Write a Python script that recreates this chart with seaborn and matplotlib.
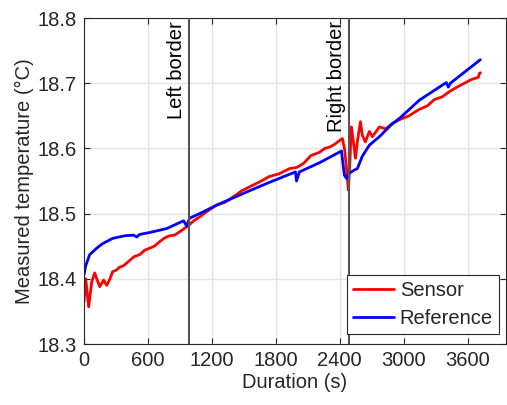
import numpy as np
import pandas as pd
import matplotlib
matplotlib.use("Agg")
import matplotlib.pyplot as plt
import seaborn as sns

# Sensor curve (time in s, temperature in °C)
sensor_t = [0, 16, 44, 72, 100, 147, 185, 213, 241, 269, 300, 335, 370, 428, 470, 522, 570,
            616, 660, 710, 760, 803, 850, 897, 940, 982, 1030, 1085, 1150, 1244, 1320, 1413,
            1480, 1553, 1640, 1741, 1830, 1929, 2000, 2060, 2130, 2210, 2260, 2303, 2350, 2397,
            2425, 2444, 2463, 2481, 2495, 2509, 2528, 2547, 2565, 2594, 2612, 2640, 2678, 2706,
            2772, 2830, 2894, 2960, 3050, 3147, 3220, 3288, 3360, 3428, 3500, 3569, 3640, 3700,
            3710, 3720]
sensor_v = [18.365, 18.400, 18.357, 18.395, 18.409, 18.388, 18.398, 18.390, 18.399, 18.411,
            18.413, 18.418, 18.420, 18.428, 18.434, 18.437, 18.444, 18.447, 18.450, 18.457,
            18.463, 18.466, 18.467, 18.472, 18.477, 18.482, 18.489, 18.495, 18.503, 18.513,
            18.517, 18.527, 18.535, 18.541, 18.548, 18.557, 18.561, 18.569, 18.571, 18.577,
            18.589, 18.594, 18.600, 18.602, 18.606, 18.612, 18.615, 18.600, 18.570, 18.536,
            18.580, 18.633, 18.610, 18.585, 18.610, 18.641, 18.620, 18.610, 18.626, 18.618,
            18.633, 18.630, 18.638, 18.644, 18.650, 18.660, 18.665, 18.675, 18.679, 18.687,
            18.694, 18.700, 18.706, 18.709, 18.715, 18.716]

# Reference curve
ref_t = [0, 16, 53, 119, 175, 269, 382, 466, 494, 522, 616, 775, 935, 963, 991, 1085, 1244,
         1553, 1741, 1985, 1994, 2022, 2210, 2416, 2435, 2444, 2463, 2491, 2538, 2565, 2612,
         2678, 2772, 2894, 2960, 3147, 3400, 3419, 3438, 3719]
ref_v = [18.406, 18.420, 18.437, 18.447, 18.454, 18.462, 18.466, 18.467, 18.464, 18.468,
         18.471, 18.477, 18.489, 18.481, 18.493, 18.500, 18.513, 18.535, 18.548, 18.564,
         18.550, 18.564, 18.578, 18.596, 18.570, 18.559, 18.554, 18.562, 18.567, 18.569,
         18.588, 18.605, 18.618, 18.638, 18.646, 18.674, 18.701, 18.694, 18.700, 18.736]

borders = [985, 2485]
border_labels = ["Left border", "Right border"]
x_ticks = [0, 600, 1200, 1800, 2400, 3000, 3600]
y_ticks = [18.3, 18.4, 18.5, 18.6, 18.7, 18.8]

df = pd.concat([
    pd.DataFrame({"t": sensor_t, "v": sensor_v, "series": "Sensor"}),
    pd.DataFrame({"t": ref_t, "v": ref_v, "series": "Reference"}),
])

sns.set_theme(style="white")
plt.rcParams["font.family"] = ["Liberation Sans", "DejaVu Sans"]

FS = 14.5
fig = plt.figure(figsize=(5.07, 4.05), dpi=100)
ax = fig.add_axes([84 / 507, 1 - 344 / 405, (506 - 84) / 507, (344 - 18) / 405])

sns.lineplot(data=df, x="t", y="v", hue="series", palette={"Sensor": "#ff0000", "Reference": "#0000ff"},
             linewidth=2, ax=ax, sort=False, estimator=None)

for b, lab in zip(borders, border_labels):
    ax.axvline(b, color="#555555", linewidth=1.5, zorder=3)
    ax.text(b - 25, 18.795, lab, rotation=90, ha="right", va="top", fontsize=FS, color="black")

ax.set_xlim(0, 3960)
ax.set_ylim(18.3, 18.8)
ax.set_xticks(x_ticks)
ax.set_yticks(y_ticks)
ax.set_xticklabels([str(v) for v in x_ticks])
ax.set_yticklabels([f"{v:.1f}" for v in y_ticks])
ax.grid(True, color="#e3e3e3", linewidth=1)
ax.set_axisbelow(True)
ax.tick_params(direction="in", length=4, width=0.8, colors="#262626", labelsize=FS,
               top=True, right=True, bottom=True, left=True, labelcolor="#262626", pad=5)
for s in ax.spines.values():
    s.set_color("#262626")
    s.set_linewidth(0.8)
ax.set_xlabel("Duration (s)", fontsize=FS, color="#262626", labelpad=2)
ax.set_ylabel("Measured temperature (°C)", fontsize=FS, color="#262626", labelpad=3)

leg = ax.legend(loc="lower right", fontsize=FS, frameon=True, fancybox=False,
                edgecolor="#262626", framealpha=1, borderpad=0.3, handlelength=2.0,
                handletextpad=0.3, labelspacing=0.45, borderaxespad=0,
                bbox_to_anchor=(0.983, 0.031))
leg.get_frame().set_linewidth(0.8)
for h in leg.get_lines():
    h.set_linewidth(2)

fig.savefig("out.png", dpi=100)
